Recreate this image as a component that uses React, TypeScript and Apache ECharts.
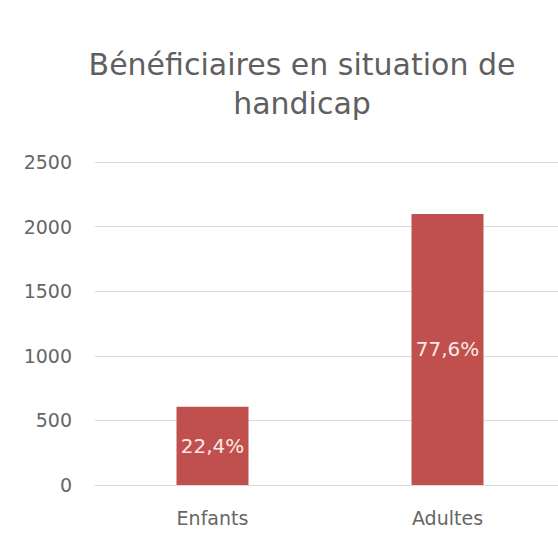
import React, { useEffect, useRef } from "react";
import * as echarts from "echarts";

const title = "Bénéficiaires en situation de\nhandicap";
const categories = ["Enfants", "Adultes"];
const values = [606, 2098];
const percentLabels = ["22,4%", "77,6%"];
const yTicks = { min: 0, max: 2500, interval: 500 };

const FONT = "'DejaVu Sans', 'Noto Sans', sans-serif";

export default function App() {
  const ref = useRef<HTMLDivElement>(null);
  useEffect(() => {
    if (!ref.current) return;
    const chart = echarts.init(ref.current, null, { renderer: "svg" });
    chart.setOption({
      animation: false,
      backgroundColor: "#ffffff",
      title: {
        text: title,
        left: 297,
        top: 40,
        textAlign: "center",
        textStyle: {
          fontFamily: FONT,
          fontSize: 30,
          fontWeight: "normal",
          color: "#5f5f5f",
          lineHeight: 39,
        },
      },
      grid: {
        left: 95,
        top: 162,
        width: 470,
        bottom: 55,
        containLabel: false,
        outerBoundsMode: "none",
      },
      xAxis: {
        type: "category",
        data: categories,
        axisLine: { lineStyle: { color: "#d9d9d9" } },
        axisTick: { show: false },
        axisLabel: { color: "#666666", fontFamily: FONT, fontSize: 19, margin: 23 },
      },
      yAxis: {
        type: "value",
        min: yTicks.min,
        max: yTicks.max,
        interval: yTicks.interval,
        axisLine: { show: false },
        axisTick: { show: false },
        splitLine: { lineStyle: { color: "#d9d9d9" } },
        axisLabel: {
          color: "#666666",
          fontFamily: FONT,
          fontSize: 19,
          margin: 23,
          formatter: (v: number) => String(v),
        },
      },
      series: [
        {
          type: "bar",
          data: values,
          barWidth: 72,
          itemStyle: { color: "#c0504d" },
          label: {
            show: true,
            position: "inside",
            color: "#fbe9e8",
            fontFamily: FONT,
            fontSize: 20,
            formatter: (p: any) => percentLabels[p.dataIndex],
          },
        },
      ],
    });
    return () => chart.dispose();
  }, []);
  return (
    <div
      ref={ref}
      style={{ position: "absolute", left: 0, top: 0, width: 558, height: 540 }}
    />
  );
}
